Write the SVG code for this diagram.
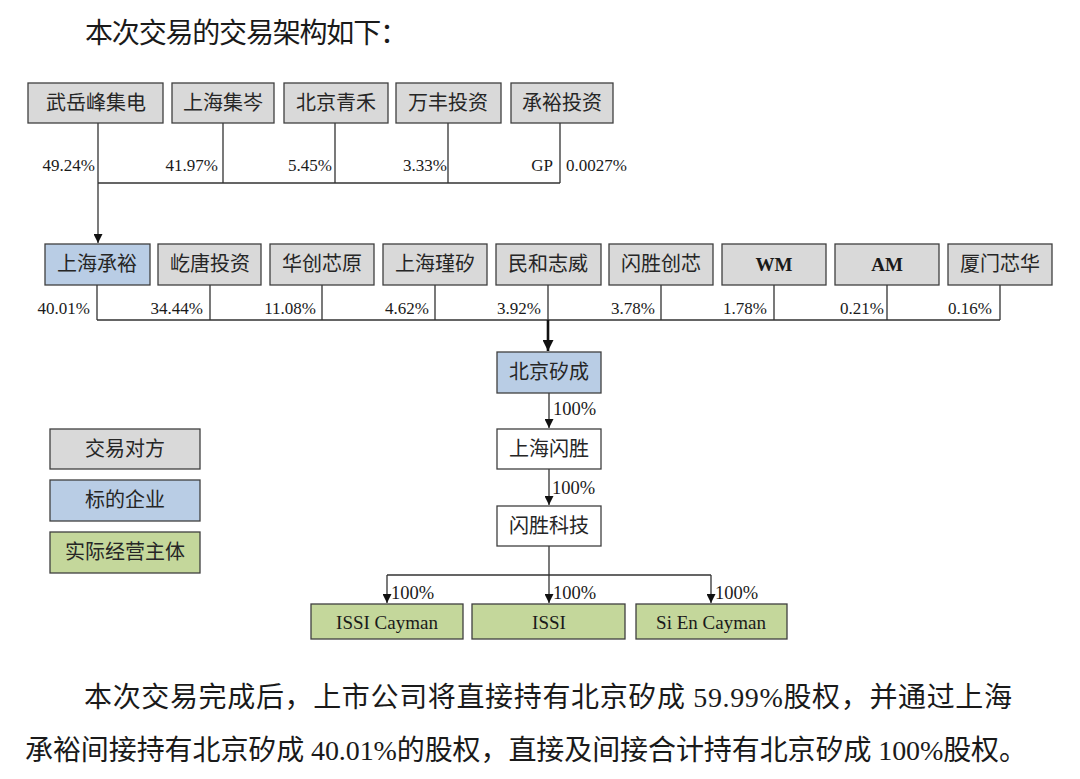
<svg xmlns="http://www.w3.org/2000/svg" width="1080" height="779" viewBox="0 0 1080 779">
<defs>
<style>
.box{stroke:#3f3f3f;stroke-width:1.3}
.g{fill:#d9d9d9}
.b{fill:#b9cde5}
.gr{fill:#c4d79b}
.w{fill:#ffffff}
.t{font-family:"Liberation Serif","Noto Sans CJK SC",serif;font-size:20px;fill:#262626;text-anchor:middle}
.en{font-family:"Liberation Serif","Noto Sans CJK SC",serif;font-size:19px;fill:#1a1a1a;text-anchor:middle}
.p{font-family:"Liberation Serif",serif;font-size:17px;fill:#1a1a1a;text-anchor:end}
.ps{font-family:"Liberation Serif",serif;font-size:18.5px;fill:#1a1a1a;text-anchor:start}
.para{font-family:"Liberation Serif","Noto Sans CJK SC",serif;font-size:28px;fill:#1a1a1a}
.ln{stroke:#333;stroke-width:1.3;fill:none}
.lnb{stroke:#111;stroke-width:2.6;fill:none}
</style>
<marker id="ah" viewBox="0 0 10 10" refX="10" refY="5" markerWidth="9" markerHeight="9" markerUnits="userSpaceOnUse" orient="auto">
<path d="M0,0 L10,5 L0,10 z" fill="#111"/>
</marker>
<marker id="ahb" viewBox="0 0 10 10" refX="10" refY="5" markerWidth="11" markerHeight="11" markerUnits="userSpaceOnUse" orient="auto">
<path d="M0,0 L10,5 L0,10 z" fill="#111"/>
</marker>
</defs>
<rect width="1080" height="779" fill="#ffffff"/>

<text class="para" x="85" y="43" textLength="323" lengthAdjust="spacing">本次交易的交易架构如下：</text>

<g id="connectors">
<path class="ln" d="M98,123 V183 M223,123 V183 M335,123 V183 M448,123 V183 M560,123 V183 M98,183 H560"/>
<path class="ln" d="M98,183 V243" marker-end="url(#ah)"/>
<path class="ln" d="M97,285 V320 M210,285 V320 M322,285 V320 M435,285 V320 M548,285 V320 M661,285 V320 M774,285 V320 M887,285 V320 M1000,285 V320 M97,320 H1000"/>
<path class="lnb" d="M548,320 V351" marker-end="url(#ahb)"/>
<path class="ln" d="M549,393 V428" marker-end="url(#ah)"/>
<path class="ln" d="M549,469 V505" marker-end="url(#ah)"/>
<path class="ln" d="M549,546 V575 M387,575 H711"/>
<path class="ln" d="M387,575 V603" marker-end="url(#ah)"/>
<path class="ln" d="M549,575 V603" marker-end="url(#ah)"/>
<path class="ln" d="M711,575 V603" marker-end="url(#ah)"/>
</g>

<g id="labels">
<text class="p" x="95" y="171">49.24%</text>
<text class="p" x="218" y="171">41.97%</text>
<text class="p" x="332" y="171">5.45%</text>
<text class="p" x="447" y="171">3.33%</text>
<text class="p" x="553" y="171">GP</text>
<text class="p" x="566" y="171" style="text-anchor:start">0.0027%</text>
<text class="p" x="90" y="314">40.01%</text>
<text class="p" x="203" y="314">34.44%</text>
<text class="p" x="316" y="314">11.08%</text>
<text class="p" x="429" y="314">4.62%</text>
<text class="p" x="541" y="314">3.92%</text>
<text class="p" x="655" y="314">3.78%</text>
<text class="p" x="767" y="314">1.78%</text>
<text class="p" x="884" y="314">0.21%</text>
<text class="p" x="992" y="314">0.16%</text>
<text class="ps" x="553" y="415">100%</text>
<text class="ps" x="552" y="494">100%</text>
<text class="ps" x="391" y="599">100%</text>
<text class="ps" x="553" y="599">100%</text>
<text class="ps" x="715" y="599">100%</text>
</g>

<g id="n-wuyuefeng"><rect class="box g" x="28" y="83" width="135" height="40"/><text class="t" x="96" y="110">武岳峰集电</text></g>
<g id="n-shanghaijicen"><rect class="box g" x="172" y="83" width="102" height="40"/><text class="t" x="223" y="110">上海集岑</text></g>
<g id="n-beijingqinghe"><rect class="box g" x="284" y="83" width="104" height="40"/><text class="t" x="336" y="110">北京青禾</text></g>
<g id="n-wanfeng"><rect class="box g" x="396" y="83" width="105" height="40"/><text class="t" x="448" y="110">万丰投资</text></g>
<g id="n-chengyutouzi"><rect class="box g" x="511" y="83" width="102" height="40"/><text class="t" x="562" y="110">承裕投资</text></g>

<g id="n-shanghaichengyu"><rect class="box b" x="45" y="244" width="105" height="41"/><text class="t" x="97" y="271">上海承裕</text></g>
<g id="n-yitang"><rect class="box g" x="158" y="244" width="103" height="41"/><text class="t" x="210" y="271">屹唐投资</text></g>
<g id="n-huachuang"><rect class="box g" x="270" y="244" width="104" height="41"/><text class="t" x="322" y="271">华创芯原</text></g>
<g id="n-shanghaijinxi"><rect class="box g" x="383" y="244" width="104" height="41"/><text class="t" x="435" y="271">上海瑾矽</text></g>
<g id="n-minhe"><rect class="box g" x="496" y="244" width="105" height="41"/><text class="t" x="548" y="271">民和志威</text></g>
<g id="n-shanshengchuangxin"><rect class="box g" x="609" y="244" width="104" height="41"/><text class="t" x="661" y="271">闪胜创芯</text></g>
<g id="n-wm"><rect class="box g" x="722" y="244" width="104" height="41"/><text class="en" x="774" y="271" font-weight="bold">WM</text></g>
<g id="n-am"><rect class="box g" x="835" y="244" width="104" height="41"/><text class="en" x="887" y="271" font-weight="bold">AM</text></g>
<g id="n-xiamen"><rect class="box g" x="948" y="244" width="104" height="41"/><text class="t" x="1000" y="271">厦门芯华</text></g>

<g id="n-beijingxicheng"><rect class="box b" x="497" y="352" width="104" height="41"/><text class="t" x="549" y="379">北京矽成</text></g>
<g id="n-shanghaishansheng"><rect class="box w" x="497" y="429" width="104" height="40"/><text class="t" x="549" y="456">上海闪胜</text></g>
<g id="n-shanshengkeji"><rect class="box w" x="497" y="506" width="104" height="40"/><text class="t" x="549" y="533">闪胜科技</text></g>

<g id="n-issicayman"><rect class="box gr" x="311" y="604" width="152" height="35"/><text class="en" x="387" y="629">ISSI Cayman</text></g>
<g id="n-issi"><rect class="box gr" x="472" y="604" width="153" height="35"/><text class="en" x="549" y="629">ISSI</text></g>
<g id="n-siencayman"><rect class="box gr" x="636" y="604" width="151" height="35"/><text class="en" x="711" y="629">Si En Cayman</text></g>

<g id="legend-jiaoyiduifang"><rect class="box g" x="50" y="429" width="150" height="40"/><text class="t" x="125" y="456">交易对方</text></g>
<g id="legend-biaodiqiye"><rect class="box b" x="50" y="480" width="150" height="41"/><text class="t" x="125" y="507">标的企业</text></g>
<g id="legend-shiji"><rect class="box gr" x="50" y="532" width="150" height="41"/><text class="t" x="125" y="559">实际经营主体</text></g>

<text class="para" x="84" y="707" textLength="928" lengthAdjust="spacing">本次交易完成后，上市公司将直接持有北京矽成 59.99%股权，并通过上海</text>
<text class="para" x="25" y="760" textLength="1002" lengthAdjust="spacing">承裕间接持有北京矽成 40.01%的股权，直接及间接合计持有北京矽成 100%股权。</text>
</svg>
